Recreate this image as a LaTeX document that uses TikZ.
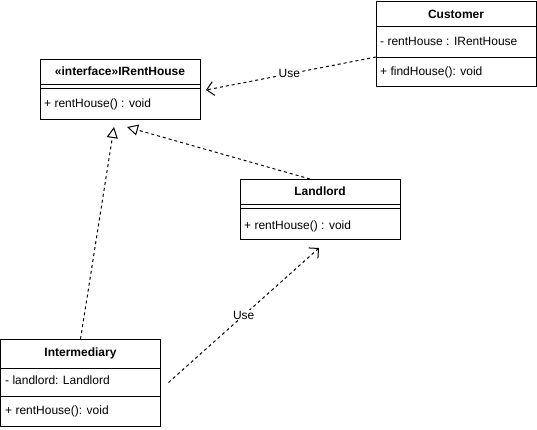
\documentclass[tikz,border=0pt]{standalone}
\usepackage{fontspec}
\setmainfont{Liberation Sans}
\usetikzlibrary{arrows.meta}
\tikzset{
  x=1pt, y=-1pt,
  classbox/.style={draw=black, line width=1pt, rectangle, inner sep=0pt, outer sep=0pt, fill=white},
  ttl/.style={font=\fontsize{12}{14}\selectfont\bfseries, inner sep=0pt},
  member/.style={font=\fontsize{12}{14}\selectfont, anchor=west, inner sep=0pt},
  sepline/.style={draw=black, line width=1pt},
  dashconn/.style={draw=black, line width=1pt, dash pattern=on 3pt off 3pt},
  realize/.style={dashconn, -{Triangle[open, length=11pt, width=11pt, line width=1pt]}},
  usedep/.style={dashconn, -{Straight Barb[length=7pt, width=14pt, line width=1pt]}},
  conlabel/.style={font=\fontsize{12}{14}\selectfont, fill=white, inner sep=1pt},
}
\begin{document}
\begin{tikzpicture}
\useasboundingbox (0,0) rectangle (537,429);

% IRentHouse
\node[classbox, minimum width=160pt, minimum height=60pt] (irh) at (120,89) {};
\node[ttl] (irht) at (120,71.5) {«interface»IRentHouse};
\draw[sepline] (irh.west |- 0,84.5) -- (irh.east |- 0,84.5);
\draw[sepline] (irh.west |- 0,88.5) -- (irh.east |- 0,88.5);
\node[member] (irhm) at (44,104) {+ rentHouse() : void};

% Customer
\node[classbox, minimum width=160pt, minimum height=85pt] (cust) at (456,43.5) {};
\node[ttl] (custt) at (456,14) {Customer};
\draw[sepline] (cust.west |- 0,26) -- (cust.east |- 0,26);
\node[member] (custa) at (380,41.5) {- rentHouse : IRentHouse};
\draw[sepline] (cust.west |- 0,57) -- (cust.east |- 0,57);
\node[member] (custm) at (380,72) {+ findHouse(): void};

% Landlord
\node[classbox, minimum width=160pt, minimum height=60pt] (land) at (320,209) {};
\node[ttl] (landt) at (320,191.5) {Landlord};
\draw[sepline] (land.west |- 0,204.5) -- (land.east |- 0,204.5);
\node[member] (landm) at (244,226) {+ rentHouse() : void};
\draw[sepline] (land.west |- 0,208.5) -- (land.east |- 0,208.5);

% Intermediary
\node[classbox, minimum width=160pt, minimum height=87pt] (inter) at (80.5,382.5) {};
\node[ttl] (intert) at (80.5,353) {Intermediary};
\draw[sepline] (inter.west |- 0,368) -- (inter.east |- 0,368);
\node[member] (intera) at (5,380) {- landlord: Landlord};
\draw[sepline] (inter.west |- 0,396) -- (inter.east |- 0,396);
\node[member] (interm) at (5,411.5) {+ rentHouse(): void};

% connector end points
\coordinate (r1tip) at ([xshift=-6pt,yshift=-8pt]irh.south);
\coordinate (r2tip) at ([xshift=7pt,yshift=-8pt]irh.south);
\coordinate (r2src) at ([xshift=-10pt]land.north);
\coordinate (u1src) at ([yshift=-13.5pt]cust.west);
\coordinate (u1tip) at ([xshift=6pt,yshift=-1pt]irh.east);
\coordinate (u2src) at ([xshift=8pt]inter.east);
\coordinate (u2tip) at ([xshift=-1pt,yshift=-9pt]land.south);

% connectors
\draw[realize] (inter.north) -- (r1tip);
\draw[realize] (r2src) -- (r2tip);
\draw[usedep] (u1src) -- node[conlabel, pos=0.51] (u1lab) {Use} (u1tip);
\draw[usedep] (u2src) -- node[conlabel, pos=0.5] (u2lab) {Use} (u2tip);
\end{tikzpicture}
\end{document}
